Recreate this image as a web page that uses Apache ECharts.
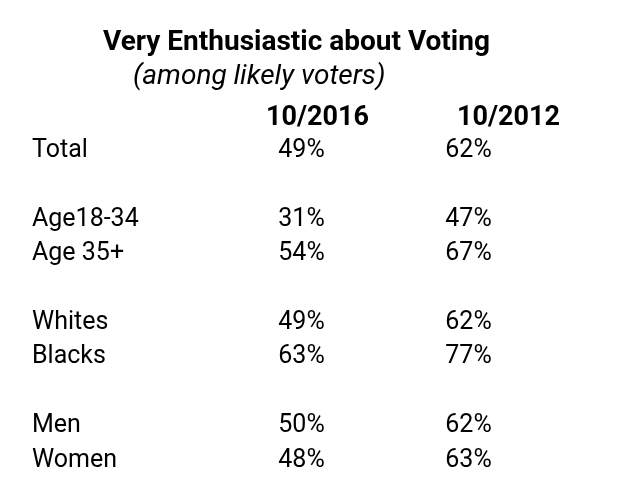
<!DOCTYPE html>
<html>
<head>
<meta charset="utf-8">
<script src="https://cdn.jsdelivr.net/npm/echarts@6/dist/echarts.min.js"></script>
<style>
html,body{margin:0;padding:0;background:#fff;}
#chart{width:620px;height:487px;}
</style>
</head>
<body>
<div id="chart"></div>
<script>
var titleText = 'Very Enthusiastic about Voting';
var subtitleText = '(among likely voters)';
var columns = ['10/2016', '10/2012'];
var rows = ['Total', '', 'Age18-34', 'Age 35+', '', 'Whites', 'Blacks', '', 'Men', 'Women'];
var values2016 = [49, null, 31, 54, null, 49, 63, null, 50, 48];
var values2012 = [62, null, 47, 67, null, 62, 77, null, 62, 63];

function toCells(colIndex, vals) {
  var out = [];
  vals.forEach(function (v, i) { if (v != null) out.push([colIndex, i, v]); });
  return out;
}

var FONT = 'Roboto';
var chart = echarts.init(document.getElementById('chart'), null, {renderer: 'canvas'});
var gridTop = 133.3, gridHeight = 344.4;
var option = {
  backgroundColor: '#ffffff',
  animation: false,
  title: [
    {text: titleText, left: 103, top: 29, padding: 0,
     textStyle: {fontFamily: FONT, fontWeight: 'bold', fontSize: 28, color: '#000'}},
    {text: subtitleText, left: 133, top: 63, padding: 0,
     textStyle: {fontFamily: FONT, fontStyle: 'italic', fontWeight: 'normal', fontSize: 28, color: '#000'}}
  ],
  grid: [
    {left: 32, top: gridTop, height: gridHeight, width: 150},
    {left: 222, top: gridTop, height: gridHeight, width: 382}
  ],
  xAxis: [
    {gridIndex: 0, type: 'value', show: false},
    {gridIndex: 1, type: 'category', data: columns, position: 'top',
     axisLine: {show: false}, axisTick: {show: false}, splitLine: {show: false},
     axisLabel: {margin: 2, fontFamily: FONT, fontWeight: 'bold', fontSize: 27, color: '#000'}}
  ],
  yAxis: [
    {gridIndex: 0, type: 'category', data: rows, inverse: true,
     axisLine: {show: false}, axisTick: {show: false}, splitLine: {show: false},
     axisLabel: {margin: 0, align: 'left', fontFamily: FONT, fontSize: 25, color: '#000'}},
    {gridIndex: 1, type: 'category', data: rows, inverse: true, show: false}
  ],
  series: [
    {type: 'scatter', xAxisIndex: 1, yAxisIndex: 1, symbolSize: 0, itemStyle: {opacity: 1}, data: toCells(0, values2016),
     label: {show: true, position: 'inside', offset: [-16, 0], opacity: 1, formatter: function (p) { return p.value[2] + '%'; },
       fontFamily: FONT, fontSize: 25, color: '#000'}},
    {type: 'scatter', xAxisIndex: 1, yAxisIndex: 1, symbolSize: 0, itemStyle: {opacity: 1}, data: toCells(1, values2012),
     label: {show: true, position: 'inside', offset: [-40, 0], opacity: 1, formatter: function (p) { return p.value[2] + '%'; },
       fontFamily: FONT, fontSize: 25, color: '#000'}}
  ]
};
chart.setOption(option);
</script>
</body>
</html>
